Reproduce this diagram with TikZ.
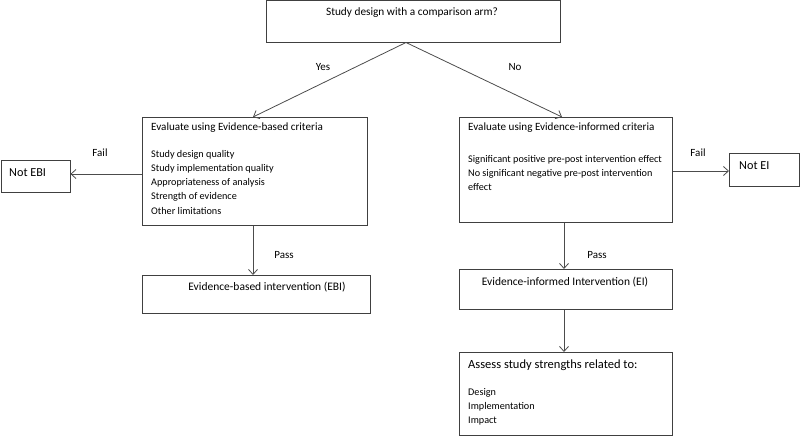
\documentclass[tikz,border=0pt]{standalone}
\usepackage{fontspec}
\setmainfont{Carlito}
\usetikzlibrary{arrows.meta}
\begin{document}
\begin{tikzpicture}[x=1pt,y=-1pt,
  box/.style={draw=black!75,line width=0.9pt,inner sep=0pt,anchor=north west},
  conn/.style={draw=black!70,line width=0.8pt,-{Straight Barb[length=5pt,width=9pt]}},
  txt/.style={inner sep=0pt,anchor=west,font=\fontsize{11.1}{13}\selectfont},
  lst/.style={inner sep=0pt,anchor=north west,align=left,font=\fontsize{10.2}{14.2}\selectfont},
  lbl/.style={inner sep=0pt,font=\fontsize{11}{13}\selectfont}]
\useasboundingbox (0,0) rectangle (800,436);
% boxes
\node[box,minimum width=294pt,minimum height=42pt] (top) at (266,0.5) {};
\node[box,minimum width=225pt,minimum height=108pt] (ebc) at (142,117) {};
\node[box,minimum width=69pt,minimum height=32pt] (notebi) at (0.5,160) {};
\node[box,minimum width=228pt,minimum height=38pt] (ebi) at (142,275) {};
\node[box,minimum width=213pt,minimum height=105pt] (eic) at (459,117) {};
\node[box,minimum width=70pt,minimum height=33pt] (notei) at (729,153) {};
\node[box,minimum width=213pt,minimum height=40pt] (ei) at (459,269) {};
\node[box,minimum width=213pt,minimum height=83pt] (assess) at (459,352) {};
% texts
\node[lbl,font=\fontsize{11.3}{13}\selectfont] (ttop) at (412,13) {Study design with a comparison arm?};
\node[txt] (tebc) at (151,128) {Evaluate using Evidence-based criteria};
\node[lst] (lebc) at (151,150) {Study design quality\\Study implementation quality\\Appropriateness of analysis\\Strength of evidence\\Other limitations};
\node[txt,font=\fontsize{12.2}{14}\selectfont] (tnotebi) at (9,173) {Not EBI};
\node[lbl,font=\fontsize{11.5}{13}\selectfont] (tebi) at (267,287) {Evidence-based intervention (EBI)};
\node[txt] (teic) at (468,128) {Evaluate using Evidence-informed criteria};
\node[lst] (leic) at (468,155) {Significant positive pre-post intervention effect\\No significant negative pre-post intervention\\effect};
\node[txt,font=\fontsize{12.2}{14}\selectfont] (tnotei) at (739,166) {Not EI};
\node[lbl,font=\fontsize{11.5}{13}\selectfont] (tei) at (565,282) {Evidence-informed Intervention (EI)};
\node[txt,font=\fontsize{12.5}{15}\selectfont] (tassess) at (468,365) {Assess study strengths related to:};
\node[lst] (lassess) at (468,388) {Design\\Implementation\\Impact};
% connector end points
\coordinate (tb) at (406,42.5);
\coordinate (ebctop) at (253,117);
\coordinate (eictop) at (562,117);
% connectors
\draw[conn] (tb) -- (ebctop);
\draw[conn] (tb) -- (eictop);
\draw[conn] (ebc.west |- 0,174) -- (notebi.east |- 0,174);
\draw[conn] (eic.east |- 0,171) -- (notei.west |- 0,171);
\draw[conn] (ebc.south -| 253,0) -- (ebi.north -| 253,0);
\draw[conn] (eic.south -| 564,0) -- (ei.north -| 564,0);
\draw[conn] (ei.south -| 564,0) -- (assess.north -| 564,0);
% labels
\node[lbl] (yes) at (323,67) {Yes};
\node[lbl] (no) at (515,67) {No};
\node[lbl] (fail1) at (100,153) {Fail};
\node[lbl] (fail2) at (698,153) {Fail};
\node[lbl] (pass1) at (284,255) {Pass};
\node[lbl] (pass2) at (597,255) {Pass};
\end{tikzpicture}
\end{document}
